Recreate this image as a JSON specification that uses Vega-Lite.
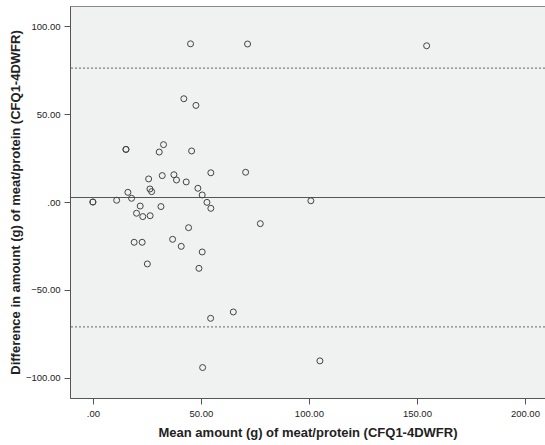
{
  "$schema": "https://vega.github.io/schema/vega-lite/v6.json",
  "width": 475,
  "height": 392,
  "autosize": "none",
  "padding": {"left": 70, "top": 6, "right": 0, "bottom": 47},
  "background": "white",
  "config": {
    "view": {"stroke": "#8a8a8a", "fill": "#f0f1f1", "strokeWidth": 1},
    "font": "Liberation Sans",
    "axis": {
      "grid": false,
      "domainColor": "#555",
      "tickColor": "#555",
      "tickSize": 6,
      "labelFontSize": 9.5,
      "labelColor": "#222",
      "titleFontSize": 13,
      "titleFontWeight": "bold",
      "titleColor": "#222"
    }
  },
  "datasets": {
    "pts": [
      {"mean": 45.2, "diff": 89.9},
      {"mean": 71.6, "diff": 89.8},
      {"mean": 154.5, "diff": 88.8},
      {"mean": 42.1, "diff": 58.7},
      {"mean": 47.7, "diff": 54.9},
      {"mean": 15.3, "diff": 29.9},
      {"mean": 15.3, "diff": 29.9},
      {"mean": 32.7, "diff": 32.6},
      {"mean": 30.7, "diff": 28.4},
      {"mean": 45.7, "diff": 29.0},
      {"mean": 25.8, "diff": 13.1},
      {"mean": 32.1, "diff": 15.0},
      {"mean": 37.5, "diff": 15.5},
      {"mean": 38.7, "diff": 12.5},
      {"mean": 43.2, "diff": 11.4},
      {"mean": 54.6, "diff": 16.6},
      {"mean": 70.7, "diff": 16.9},
      {"mean": 26.4, "diff": 7.4},
      {"mean": 27.2, "diff": 5.9},
      {"mean": 16.2, "diff": 5.5},
      {"mean": 48.6, "diff": 7.8},
      {"mean": 50.6, "diff": 4.0},
      {"mean": 17.9, "diff": 2.1},
      {"mean": 0.0, "diff": 0.0},
      {"mean": 0.0, "diff": 0.0},
      {"mean": 11.0, "diff": 1.0},
      {"mean": 52.8, "diff": -0.2},
      {"mean": 54.6, "diff": -3.6},
      {"mean": 21.9, "diff": -2.3},
      {"mean": 20.2, "diff": -6.4},
      {"mean": 23.1, "diff": -8.3},
      {"mean": 26.5, "diff": -7.8},
      {"mean": 31.5, "diff": -2.6},
      {"mean": 44.3, "diff": -14.6},
      {"mean": 77.5, "diff": -12.3},
      {"mean": 19.1, "diff": -22.9},
      {"mean": 22.8, "diff": -22.9},
      {"mean": 36.9, "diff": -21.2},
      {"mean": 40.9, "diff": -25.2},
      {"mean": 50.6, "diff": -28.4},
      {"mean": 25.2, "diff": -35.2},
      {"mean": 49.1, "diff": -37.7},
      {"mean": 54.5, "diff": -66.1},
      {"mean": 65.0, "diff": -62.5},
      {"mean": 50.8, "diff": -94.1},
      {"mean": 100.9, "diff": 0.7},
      {"mean": 105.1, "diff": -90.3}
    ],
    "lines": [
      {"y": 2.55, "kind": "mean"},
      {"y": 76.1, "kind": "limit"},
      {"y": -71.0, "kind": "limit"}
    ]
  },
  "layer": [
    {
      "data": {"name": "lines"},
      "transform": [{"filter": "datum.kind == 'mean'"}],
      "mark": {"type": "rule", "color": "#555", "strokeWidth": 1},
      "encoding": {"y": {"field": "y", "type": "quantitative", "scale": {"domain": [-111.4, 111.4]}}}
    },
    {
      "data": {"name": "lines"},
      "transform": [{"filter": "datum.kind == 'limit'"}],
      "mark": {"type": "rule", "color": "#666", "strokeWidth": 1, "strokeDash": [2, 2]},
      "encoding": {"y": {"field": "y", "type": "quantitative"}}
    },
    {
      "data": {"name": "pts"},
      "mark": {"type": "point", "shape": "circle", "filled": false, "stroke": "#444", "strokeWidth": 1, "size": 36, "opacity": 1},
      "encoding": {
        "x": {
          "field": "mean", "type": "quantitative",
          "scale": {"domain": [-10.6, 209.3], "nice": false, "zero": false},
          "axis": {"values": [0, 50, 100, 150, 200], "labelExpr": "datum.value == 0 ? '.00' : format(datum.value, '.2f')", "title": "Mean amount (g) of meat/protein (CFQ1-4DWFR)", "titlePadding": 9, "labelPadding": 4}
        },
        "y": {
          "field": "diff", "type": "quantitative",
          "scale": {"domain": [-111.4, 111.4], "nice": false, "zero": false},
          "axis": {"values": [-100, -50, 0, 50, 100], "labelExpr": "datum.value == 0 ? '.00' : format(datum.value, '.2f')", "title": "Difference in amount (g) of meat/protein (CFQ1-4DWFR)", "titlePadding": 3, "labelPadding": 4}
        }
      }
    }
  ]
}
